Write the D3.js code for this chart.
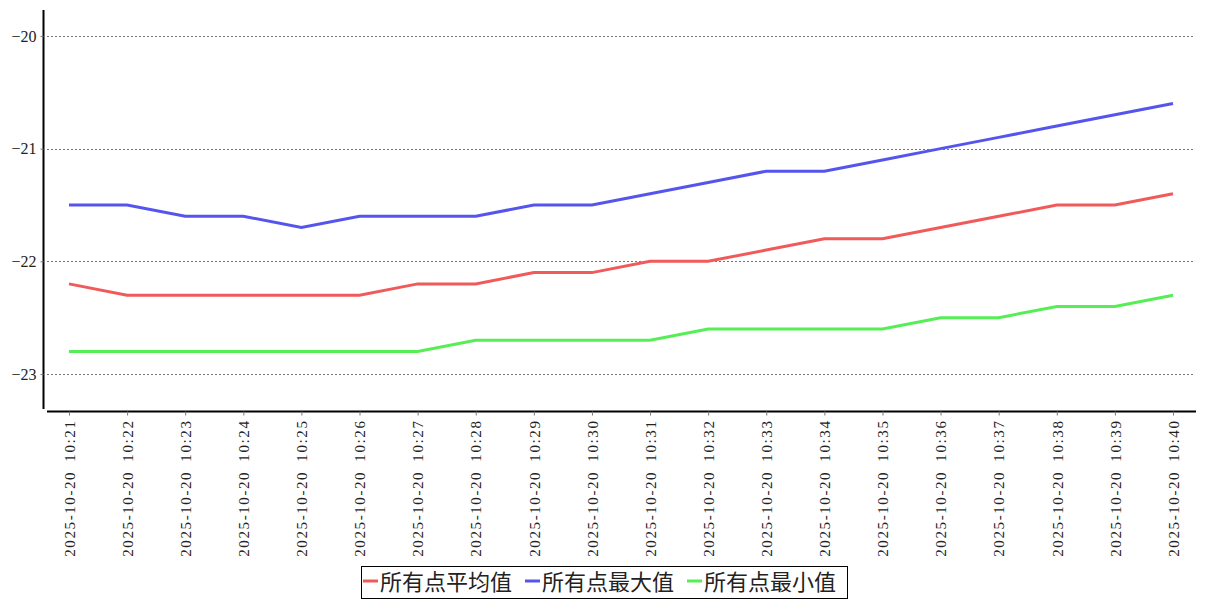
<!DOCTYPE html>
<html>
<head>
<meta charset="utf-8">
<script src="https://cdn.jsdelivr.net/npm/d3@7"></script>
<style>
  body { margin: 0; background: #fff; }
  svg text { font-family: "Liberation Serif", "Noto Sans CJK SC", serif; fill: #222; }
  .grid line { stroke: #777; stroke-dasharray: 2,2; stroke-width: 1; }
</style>
</head>
<body>
<div class="linechart"></div>
<script>
var times = ["2025-10-20 10:21", "2025-10-20 10:22", "2025-10-20 10:23", "2025-10-20 10:24",
  "2025-10-20 10:25", "2025-10-20 10:26", "2025-10-20 10:27", "2025-10-20 10:28",
  "2025-10-20 10:29", "2025-10-20 10:30", "2025-10-20 10:31", "2025-10-20 10:32",
  "2025-10-20 10:33", "2025-10-20 10:34", "2025-10-20 10:35", "2025-10-20 10:36",
  "2025-10-20 10:37", "2025-10-20 10:38", "2025-10-20 10:39", "2025-10-20 10:40"];

var avgVals = [-22.2, -22.3, -22.3, -22.3, -22.3, -22.3, -22.2, -22.2, -22.1, -22.1,
  -22.0, -22.0, -21.9, -21.8, -21.8, -21.7, -21.6, -21.5, -21.5, -21.4];
var maxVals = [-21.5, -21.5, -21.6, -21.6, -21.7, -21.6, -21.6, -21.6, -21.5, -21.5,
  -21.4, -21.3, -21.2, -21.2, -21.1, -21.0, -20.9, -20.8, -20.7, -20.6];
var minVals = [-22.8, -22.8, -22.8, -22.8, -22.8, -22.8, -22.8, -22.7, -22.7, -22.7,
  -22.7, -22.6, -22.6, -22.6, -22.6, -22.5, -22.5, -22.4, -22.4, -22.3];

var seriesNames = ["所有点平均值", "所有点最大值", "所有点最小值"];
var seriesColors = ["#f05a5a", "#5555ee", "#55ee55"];
var yTicks = [-20, -21, -22, -23];

var width = 1207, height = 600;

var svg = d3.select(".linechart").append("svg")
    .attr("width", width)
    .attr("height", height);

var x = d3.scalePoint()
  .domain(times)
  .range([69, 1173]);

var y = d3.scaleLinear()
  .domain([-23.31, -19.77])
  .range([409, 10]);

// grid
svg.append("g")
  .attr("class", "grid")
  .selectAll("line")
  .data(yTicks)
  .enter().append("line")
  .attr("x1", 47)
  .attr("x2", 1194)
  .attr("y1", function (d) { return Math.round(y(d)) + 0.5; })
  .attr("y2", function (d) { return Math.round(y(d)) + 0.5; });

// y axis
var yAxis = d3.axisLeft(y).tickValues(yTicks).tickSize(3).tickFormat(function (d) { return "\u2212" + Math.abs(d); });
var gy = svg.append("g")
  .attr("transform", "translate(43.5,0)")
  .call(yAxis);
gy.select(".domain").attr("d", "M0,10V409").attr("stroke", "#000").attr("stroke-width", 2);
gy.selectAll(".tick line").attr("stroke", "#777");
gy.selectAll("text").style("font-size", "16px").attr("x", -7);

// x axis
var xAxis = d3.axisBottom(x).tickSize(4);
var gx = svg.append("g")
  .attr("transform", "translate(0,411.5)")
  .call(xAxis);
gx.select(".domain").attr("d", "M47,0H1196").attr("stroke", "#000").attr("stroke-width", 2);
gx.selectAll(".tick line").attr("stroke", "#777");
gx.selectAll("text")
  .style("font-size", "15px")
  .style("letter-spacing", "1.6px")
  .attr("text-anchor", "end")
  .attr("dy", "0.35em")
  .attr("transform", "translate(0,8) rotate(-90)")
  .attr("x", 0)
  .attr("y", 0)
  .text(function (d) { return d.replace(" ", "\u2002"); });

// lines
var allSeries = [avgVals, maxVals, minVals];
var line = d3.line()
  .x(function (d, i) { return x(times[i]); })
  .y(function (d) { return y(d); });

allSeries.forEach(function (vals, k) {
  svg.append("path")
    .datum(vals)
    .attr("fill", "none")
    .attr("stroke", seriesColors[k])
    .attr("stroke-width", 3)
    .attr("d", line);
});

// legend
var legend = svg.append("g");
legend.append("rect")
  .attr("x", 361.5).attr("y", 566.5)
  .attr("width", 486).attr("height", 32)
  .attr("fill", "#fff").attr("stroke", "#000").attr("stroke-width", 1);

var lx = 363;
seriesNames.forEach(function (name, k) {
  legend.append("line")
    .attr("x1", lx).attr("x2", lx + 15)
    .attr("y1", 581).attr("y2", 581)
    .attr("stroke", seriesColors[k]).attr("stroke-width", 3);
  legend.append("text")
    .attr("x", lx + 17).attr("y", 590)
    .style("font-size", "22px")
    .style("font-family", "'Noto Sans CJK SC', sans-serif")
    .text(name);
  lx += 162;
});
</script>
</body>
</html>
